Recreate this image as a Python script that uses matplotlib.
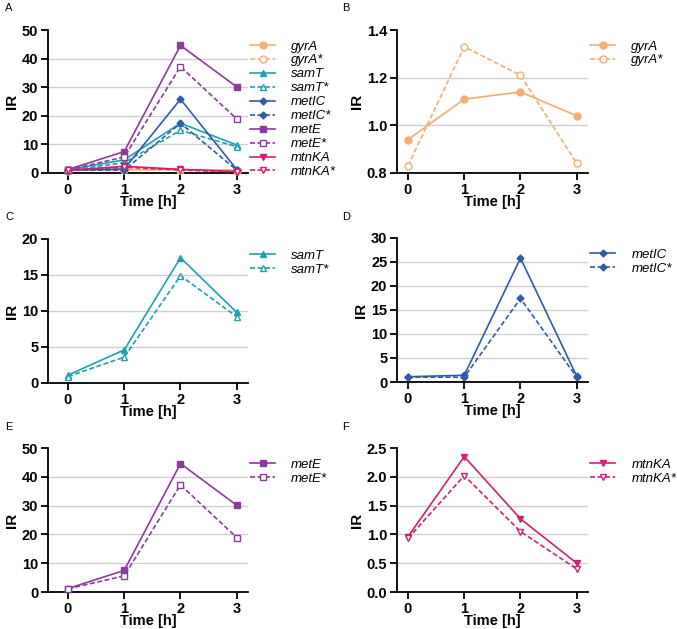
import matplotlib
matplotlib.use("Agg")
import matplotlib.pyplot as plt

plt.rcParams['font.family'] = ['Liberation Sans', 'DejaVu Sans']

time = [0, 1, 2, 3]

# values (IR per time point)
gyrA = [0.94, 1.11, 1.14, 1.04]
gyrA_s = [0.83, 1.33, 1.21, 0.84]
samT = [1.1, 4.6, 17.4, 9.8]
samT_s = [0.9, 3.6, 14.9, 9.2]
metIC = [1.1, 1.4, 25.8, 1.2]
metIC_s = [1.0, 1.0, 17.4, 1.0]
metE = [1.2, 7.5, 44.6, 30.1]
metE_s = [1.1, 5.6, 37.2, 18.9]
mtnKA = [0.96, 2.35, 1.27, 0.50]
mtnKA_s = [0.93, 2.02, 1.05, 0.40]

genes = ["gyrA", "samT", "metIC", "metE", "mtnKA"]
colors = {"gyrA": "#F2AE72", "samT": "#1FA0B0", "metIC": "#2F5BA8",
          "metE": "#8C3A9C", "mtnKA": "#D21F74"}
markers = {"gyrA": "o", "samT": "^", "metIC": "D", "metE": "s", "mtnKA": "v"}
msizes = {"gyrA": 5, "samT": 5, "metIC": 3.5, "metE": 5, "mtnKA": 5}
data = {"gyrA": (gyrA, gyrA_s), "samT": (samT, samT_s), "metIC": (metIC, metIC_s),
        "metE": (metE, metE_s), "mtnKA": (mtnKA, mtnKA_s)}

W, H = 677, 629
fig = plt.figure(figsize=(W / 100, H / 100), dpi=100)


def make_ax(x0, y0, x1, y1):
    return fig.add_axes([x0 / W, 1 - y1 / H, (x1 - x0) / W, (y1 - y0) / H])


def draw(ax, names, ymax, ystep, ymin, xleft, dec):
    for g in names:
        solid, star = data[g]
        c = colors[g]
        # metIC* keeps a filled diamond in the original
        face = c if g == "metIC" else "white"
        ax.plot(time, solid, color=c, lw=1.2, marker=markers[g], ms=msizes[g],
                mfc=c, mec=c, label=g, clip_on=False, zorder=3)
        ax.plot(time, star, color=c, lw=1.2, ls=(0, (3, 1.5)), marker=markers[g],
                ms=msizes[g], mfc=face, mec=c, mew=1.0, label=g + "*",
                clip_on=False, zorder=3)
    ax.set_xlim(xleft, 3.2)
    ax.set_ylim(ymin, ymax)
    ticks = []
    v = ymin
    while v <= ymax + 1e-9:
        ticks.append(round(v, 3))
        v += ystep
    ax.set_yticks(ticks)
    ax.set_yticklabels([f"{t:.{dec}f}" for t in ticks])
    for t in ticks[1:-1]:
        ax.axhline(t, color="#cfcfcf", lw=1.0, zorder=1)
    ax.set_xticks(time)
    for s in ["top", "right"]:
        ax.spines[s].set_visible(False)
    for s in ["left", "bottom"]:
        ax.spines[s].set_linewidth(1.3)
    ax.tick_params(width=1.3, length=5, labelsize=10.5, pad=2)
    for lab in ax.get_xticklabels() + ax.get_yticklabels():
        lab.set_fontweight("bold")
    ax.set_xlabel("Time [h]", fontsize=10.5, fontweight="bold", labelpad=-1)
    ax.set_ylabel("IR", fontsize=11, fontweight="bold", labelpad=2)
    leg = ax.legend(loc="upper left", bbox_to_anchor=(0.985, 0.965), frameon=False,
                    fontsize=9.5, handlelength=1.9, handletextpad=1.2,
                    labelspacing=0.13, borderaxespad=0)
    for t in leg.get_texts():
        t.set_fontstyle("italic")


axA = make_ax(48, 30, 248, 173)
draw(axA, genes, 50, 10, 0, -0.355, 0)
axB = make_ax(397, 30, 588, 173)
draw(axB, ["gyrA"], 1.4, 0.2, 0.8, -0.195, 1)
axC = make_ax(48, 239, 248, 383)
draw(axC, ["samT"], 20, 5, 0, -0.355, 0)
axD = make_ax(397, 238, 588, 382)
draw(axD, ["metIC"], 30, 5, 0, -0.195, 0)
axE = make_ax(48, 448, 248, 592)
draw(axE, ["metE"], 50, 10, 0, -0.355, 0)
axF = make_ax(397, 448, 588, 592)
draw(axF, ["mtnKA"], 2.5, 0.5, 0, -0.195, 1)

for lab, x, y in [("A", 5, 3), ("B", 342, 3), ("C", 5, 212), ("D", 342, 212),
                  ("E", 5, 422), ("F", 342, 422)]:
    fig.text(x / W, 1 - y / H, lab, fontsize=8, va="top", ha="left")

fig.savefig("out.png", dpi=100)
